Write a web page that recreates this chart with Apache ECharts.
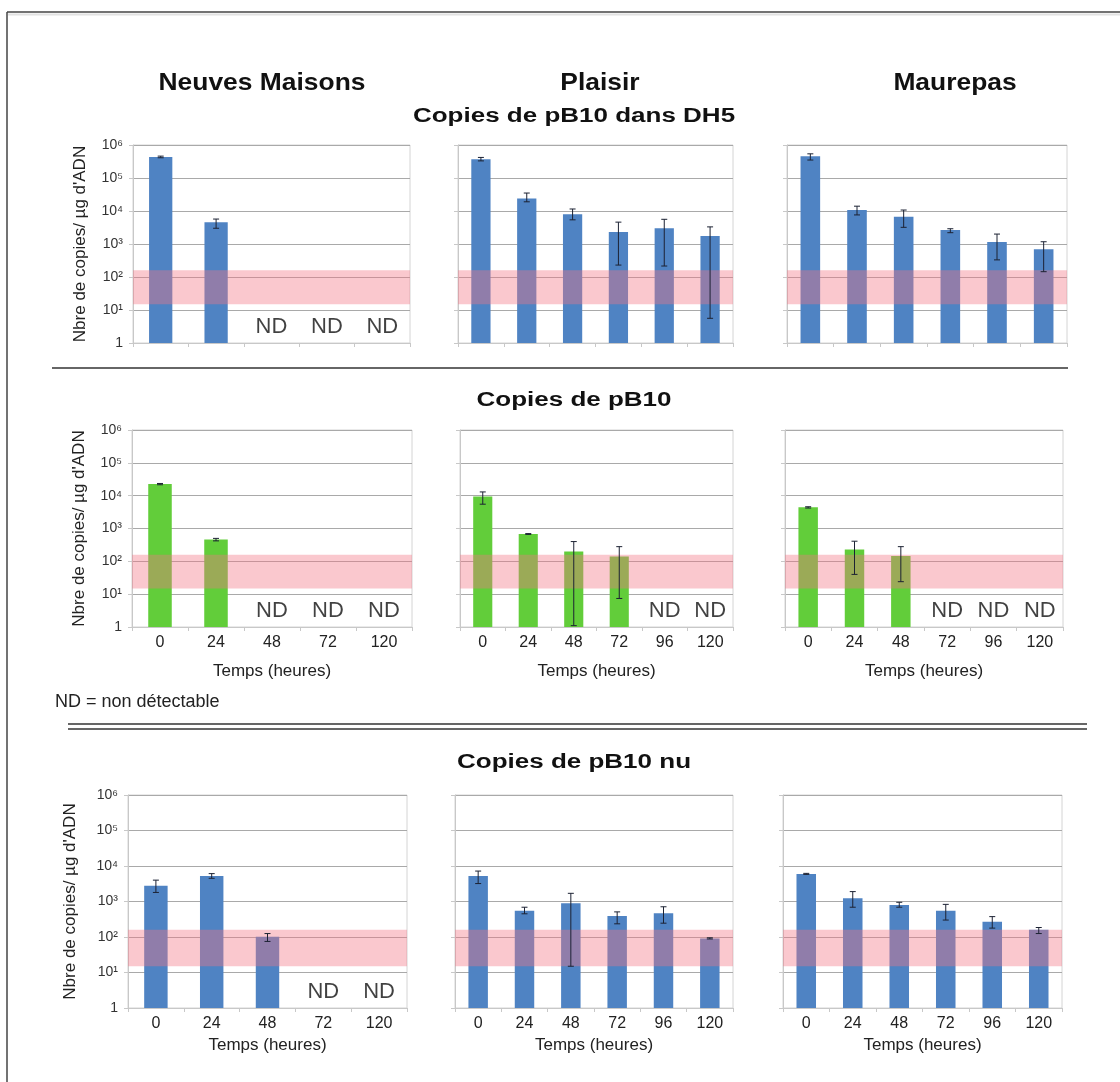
<!DOCTYPE html>
<html>
<head>
<meta charset="utf-8">
<title>Copies de pB10</title>
<script src="https://cdn.jsdelivr.net/npm/echarts@6/dist/echarts.min.js"></script>
<style>
  html, body { margin: 0; padding: 0; background: #fff; }
  #chart { width: 1120px; height: 1082px; }
</style>
</head>
<body>
<div id="chart"></div>
<script>
// ---- categories (time, hours) ----
const hoursNM = ['0', '24', '48', '72', '120'];
const hoursPM = ['0', '24', '48', '72', '96', '120'];

// ---- site and row titles ----
const siteNames = ['Neuves Maisons', 'Plaisir', 'Maurepas'];
const rowTitles = ['Copies de pB10 dans DH5', 'Copies de pB10', 'Copies de pB10 nu'];

// ---- y tick labels (powers of ten) ----
const yTickLabels = ['1', '10\u00b9', '10\u00b2', '10\u00b3', '10\u2074', '10\u2075', '10\u2076'];

// ---- detection band (copies / µg ADN) ----
const detectBand = [15, 160];

// ---- Copies de pB10 dans DH5 (null = ND) ----
const dh5NM   = [430000, 4600, null, null, null];
const dh5NMLo = [410000, 3000, null, null, null];
const dh5NMHi = [460000, 5700, null, null, null];

const dh5PL   = [370000, 24000, 8000, 2300, 3000, 1750];
const dh5PLLo = [330000, 19000, 5400, 230, 215, 5.6];
const dh5PLHi = [420000, 35000, 11500, 4600, 5600, 3300];

const dh5MA   = [460000, 10700, 6700, 2650, 1150, 690];
const dh5MALo = [350000, 7600, 3200, 2200, 330, 145];
const dh5MAHi = [540000, 14000, 10700, 2900, 2000, 1170];

// ---- Copies de pB10 ----
const pbNM   = [22500, 460, null, null, null];
const pbNMLo = [21500, 420, null, null, null];
const pbNMHi = [23500, 500, null, null, null];

const pbPL   = [9500, 680, 200, 140, null, null];
const pbPLLo = [5500, 660, 1.1, 7.4, null, null];
const pbPLHi = [13000, 700, 400, 280, null, null];

const pbMA   = [4400, 230, 145, null, null, null];
const pbMALo = [4200, 40, 24, null, null, null];
const pbMAHi = [4600, 410, 280, null, null, null];

// ---- Copies de pB10 nu ----
const nuNM   = [2800, 5200, 102, null, null];
const nuNMLo = [1800, 4500, 75, null, null];
const nuNMHi = [4000, 6100, 125, null, null];

const nuPL   = [5200, 550, 890, 390, 465, 91];
const nuPLLo = [3200, 450, 15, 235, 245, 88];
const nuPLHi = [7200, 690, 1700, 510, 710, 95];

const nuMA   = [6000, 1240, 800, 550, 270, 160];
const nuMALo = [5800, 690, 690, 300, 178, 125];
const nuMAHi = [6200, 1900, 950, 830, 375, 185];

// ---- panel layout ----
const BLUE = '#4f83c3';
const GREEN = '#62cd3a';
const FONT = '"Liberation Sans", Arial, sans-serif';

const rowBox = [
  { top: 145, height: 198, labels: false, nameGap: 44, xNameGap: 36 },
  { top: 430, height: 197, labels: true,  nameGap: 44, xNameGap: 36 },
  { top: 795, height: 213, labels: true,  nameGap: 49, xNameGap: 29 }
];
const colBox = [
  [{ left: 133, width: 277 }, { left: 458, width: 275 }, { left: 787, width: 280 }],
  [{ left: 132, width: 280 }, { left: 460, width: 273 }, { left: 785, width: 278 }],
  [{ left: 128, width: 279 }, { left: 455, width: 278 }, { left: 783, width: 279 }]
];

const panels = [
  { row: 0, col: 0, cats: hoursNM, v: dh5NM, lo: dh5NMLo, hi: dh5NMHi, color: BLUE },
  { row: 0, col: 1, cats: hoursPM, v: dh5PL, lo: dh5PLLo, hi: dh5PLHi, color: BLUE },
  { row: 0, col: 2, cats: hoursPM, v: dh5MA, lo: dh5MALo, hi: dh5MAHi, color: BLUE },
  { row: 1, col: 0, cats: hoursNM, v: pbNM, lo: pbNMLo, hi: pbNMHi, color: GREEN },
  { row: 1, col: 1, cats: hoursPM, v: pbPL, lo: pbPLLo, hi: pbPLHi, color: GREEN },
  { row: 1, col: 2, cats: hoursPM, v: pbMA, lo: pbMALo, hi: pbMAHi, color: GREEN },
  { row: 2, col: 0, cats: hoursNM, v: nuNM, lo: nuNMLo, hi: nuNMHi, color: BLUE },
  { row: 2, col: 1, cats: hoursPM, v: nuPL, lo: nuPLLo, hi: nuPLHi, color: BLUE },
  { row: 2, col: 2, cats: hoursPM, v: nuMA, lo: nuMALo, hi: nuMAHi, color: BLUE }
];

const grids = [], xAxes = [], yAxes = [], series = [];

function bandItem(params, api) {
  const cs = params.coordSys;
  const yTop = api.coord([0, api.value(2)])[1];
  const yBot = api.coord([0, api.value(1)])[1];
  return {
    type: 'rect',
    shape: { x: cs.x, y: yTop, width: cs.width, height: yBot - yTop },
    style: { fill: 'rgba(242,118,132,0.40)' }
  };
}

function errorItem(params, api) {
  const top = api.coord([api.value(0), api.value(2)]);
  const bot = api.coord([api.value(0), api.value(1)]);
  const x = top[0], hw = 3;
  const st = { stroke: '#1c2233', lineWidth: 1 };
  return {
    type: 'group',
    children: [
      { type: 'line', shape: { x1: x, y1: top[1], x2: x, y2: bot[1] }, style: st },
      { type: 'line', shape: { x1: x - hw, y1: top[1], x2: x + hw, y2: top[1] }, style: st },
      { type: 'line', shape: { x1: x - hw, y1: bot[1], x2: x + hw, y2: bot[1] }, style: st }
    ]
  };
}

panels.forEach((p, i) => {
  const rb = rowBox[p.row];
  const cb = colBox[p.row][p.col];
  grids.push({
    left: cb.left, top: rb.top, width: cb.width, height: rb.height,
    show: true, borderColor: '#d4d4d4', borderWidth: 1, backgroundColor: 'transparent'
  });
  xAxes.push({
    type: 'category', gridIndex: i, data: p.cats, boundaryGap: true,
    axisLine: { show: true, lineStyle: { color: '#c8c8c8' } },
    axisTick: { show: true, length: 4, lineStyle: { color: '#c8c8c8' } },
    axisLabel: { show: rb.labels, fontSize: 16, color: '#222', fontFamily: FONT, margin: 8 },
    name: rb.labels ? 'Temps (heures)' : '',
    nameLocation: 'middle', nameGap: rb.xNameGap,
    nameTextStyle: { fontSize: 17, color: '#222', fontFamily: FONT }
  });
  yAxes.push({
    type: 'log', logBase: 10, gridIndex: i, min: 1, max: 1e6,
    axisLine: { show: true, lineStyle: { color: '#c8c8c8' } },
    axisTick: { show: true, length: 4, lineStyle: { color: '#c8c8c8' } },
    splitLine: { show: true, lineStyle: { color: '#a9a9a9', width: 1 } },
    axisLabel: {
      show: p.col === 0, fontSize: 14, color: '#333', fontFamily: FONT, margin: 10,
      formatter: v => yTickLabels[Math.round(Math.log10(v))]
    },
    name: p.col === 0 ? 'Nbre de copies/ \u00b5g d\'ADN' : '',
    nameLocation: 'middle', nameRotate: 90, nameGap: rb.nameGap,
    nameTextStyle: { fontSize: 17, color: '#222', fontFamily: FONT }
  });

  series.push({
    type: 'bar', xAxisIndex: i, yAxisIndex: i, data: p.v,
    barWidth: '42%', itemStyle: { color: p.color }, z: 2, animation: false
  });
  series.push({
    type: 'custom', xAxisIndex: i, yAxisIndex: i,
    data: [[0, detectBand[0], detectBand[1]]],
    encode: { x: 0, y: [1, 2] },
    renderItem: bandItem, z: 3, silent: true, animation: false
  });
  const errData = [];
  p.v.forEach((val, j) => {
    if (val != null && p.lo[j] != null) errData.push([j, p.lo[j], p.hi[j]]);
  });
  series.push({
    type: 'custom', xAxisIndex: i, yAxisIndex: i, data: errData,
    encode: { x: 0, y: [1, 2] },
    renderItem: errorItem, z: 4, silent: true, animation: false
  });
  const ndData = [];
  p.v.forEach((val, j) => { if (val == null) ndData.push([j, 1]); });
  series.push({
    type: 'scatter', xAxisIndex: i, yAxisIndex: i, data: ndData,
    symbolSize: 0, clip: false, z: 5, silent: true, animation: false,
    label: {
      show: true, position: 'top', distance: 5, formatter: 'ND',
      fontSize: 22, color: '#111', fontFamily: FONT
    }
  });
});

// ---- titles, separators and frame ----
const graphic = [];
const centred = { textAlign: 'center', textVerticalAlign: 'middle', align: 'center', verticalAlign: 'middle' };
const colCenters = [262, 600, 955];
siteNames.forEach((s, k) => graphic.push({
  type: 'text', x: colCenters[k], y: 83, scaleX: 1.1,
  style: Object.assign({ text: s, font: 'bold 24px ' + FONT, fill: '#111' }, centred)
}));
const rowTitleY = [116, 400, 762];
rowTitles.forEach((t, k) => graphic.push({
  type: 'text', x: 574, y: rowTitleY[k], scaleX: 1.3,
  style: Object.assign({ text: t, font: 'bold 20px ' + FONT, fill: '#111' }, centred)
}));
graphic.push({
  type: 'text', x: 55, y: 702,
  style: { text: 'ND = non d\u00e9tectable', font: '18px ' + FONT, fill: '#222',
    textAlign: 'left', textVerticalAlign: 'middle', align: 'left', verticalAlign: 'middle' }
});
const hline = (x1, x2, y, w, c) => ({
  type: 'line', shape: { x1: x1, y1: y, x2: x2, y2: y }, style: { stroke: c, lineWidth: w }
});
graphic.push(hline(52, 1068, 368, 1.5, '#333'));
graphic.push(hline(68, 1087, 724, 1.5, '#333'));
graphic.push(hline(68, 1087, 729, 1.5, '#333'));
graphic.push(hline(7, 1120, 12, 1.5, '#444'));
graphic.push(hline(8, 1120, 14.5, 2, '#e2e2e2'));
graphic.push({ type: 'line', shape: { x1: 7, y1: 12, x2: 7, y2: 1082 }, style: { stroke: '#444', lineWidth: 1.5 } });

const chart = echarts.init(document.getElementById('chart'), null, { renderer: 'canvas' });
chart.setOption({
  backgroundColor: '#fff',
  animation: false,
  grid: grids,
  xAxis: xAxes,
  yAxis: yAxes,
  series: series,
  graphic: graphic
});
</script>
</body>
</html>
